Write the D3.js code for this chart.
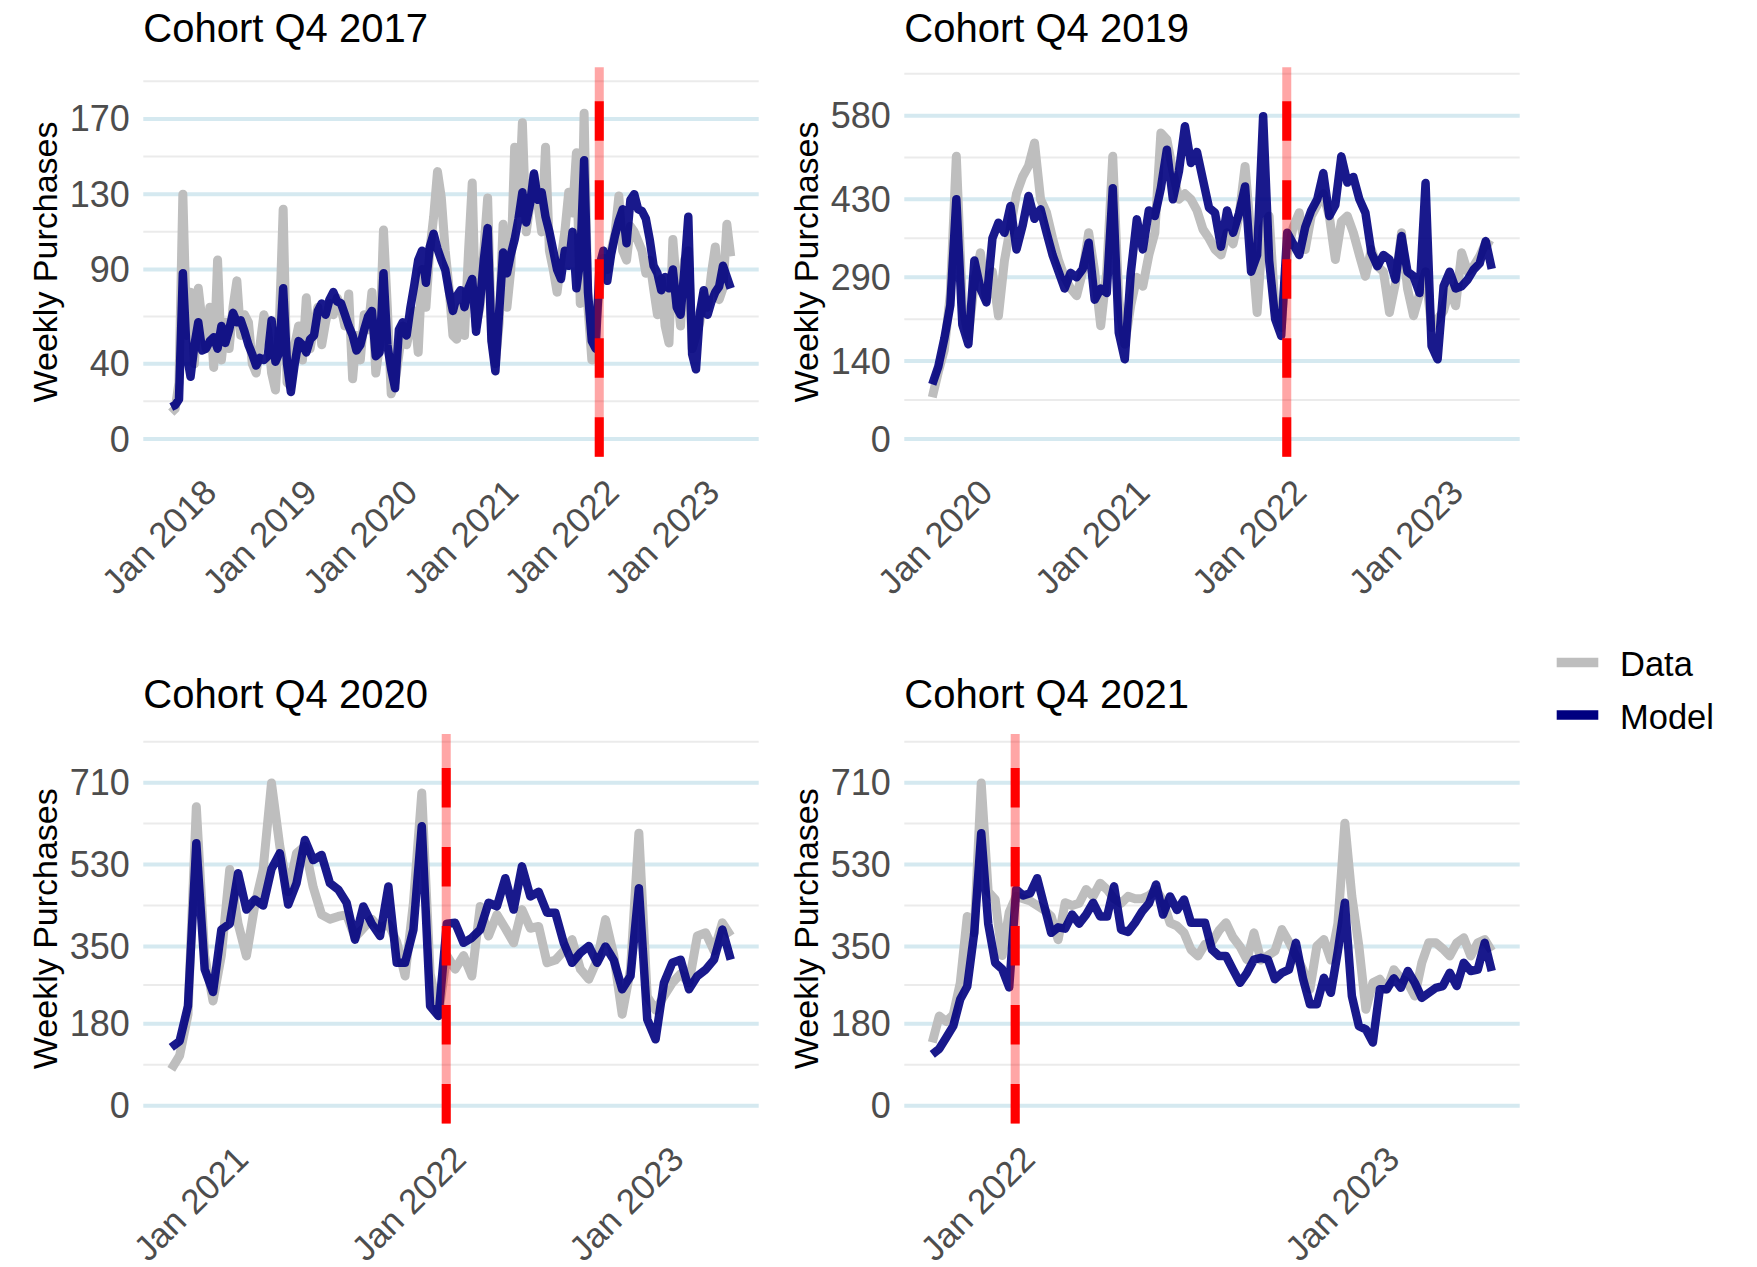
<!DOCTYPE html>
<html>
<head>
<meta charset="utf-8">
<script src="https://cdn.jsdelivr.net/npm/d3@7"></script>
<style>
  body { margin: 0; background: #fff; }
  svg { display: block; font-family: "Liberation Sans", Arial, sans-serif; }
</style>
</head>
<body>
<div id="chart"></div>
<script>
// one cohort per panel, weekly purchases sampled every `stepWeeks` weeks from the start date
const cohorts = ['Cohort Q4 2017', 'Cohort Q4 2019', 'Cohort Q4 2020', 'Cohort Q4 2021'];
const startDates = ['2017-10-01', '2019-09-29', '2020-09-27', '2021-10-10'];
const stepWeeks = [2, 2, 2, 1];
const cutoffDate = '2022-01-01';
const yTicks = [
  [0, 40, 90, 130, 170],
  [0, 140, 290, 430, 580],
  [0, 180, 350, 530, 710],
  [0, 180, 350, 530, 710]
];
const yMax = [188, 635, 778, 778];
const seriesNames = ['Data', 'Model'];

const dataQ42017 = [
  14, 16, 30, 130, 55, 78, 40, 80, 62, 48,
  70, 38, 95, 42, 62, 48, 70, 84, 55, 66,
  62, 40, 35, 50, 66, 58, 35, 26, 60, 122,
  30, 28, 50, 60, 42, 75, 48, 60, 70, 50,
  62, 72, 66, 75, 70, 60, 77, 32, 55, 42,
  66, 58, 78, 35, 50, 111, 70, 24, 30, 45,
  60, 50, 60, 68, 46, 90, 70, 100, 118, 142,
  128, 100, 80, 55, 53, 70, 55, 98, 136, 60,
  70, 100, 128, 54, 40, 62, 114, 70, 90, 155,
  120, 168, 110, 125, 140, 125, 110, 155, 100, 90,
  78, 95, 110, 131, 120, 152, 72, 173, 70, 42,
  60, 80, 96, 90, 100, 109, 129, 100, 95, 113,
  110, 105, 100, 88, 95, 80, 66, 85, 60, 51,
  106, 80, 60, 95, 100, 48, 55, 62, 77, 70,
  88, 102, 74, 80, 114, 97
];
const modelQ42017 = [
  17, 18, 21, 88, 45, 33, 50, 62, 47, 48,
  52, 54, 48, 60, 51, 58, 67, 62, 63, 57,
  50, 45, 39, 43, 42, 44, 63, 41, 46, 80,
  40, 25, 40, 52, 50, 46, 53, 55, 68, 72,
  66, 74, 78, 73, 72, 66, 60, 55, 47, 50,
  58, 65, 68, 44, 46, 88, 50, 37, 27, 58,
  62, 55, 70, 82, 95, 100, 83, 102, 109, 101,
  95, 90, 78, 68, 76, 79, 70, 80, 85, 57,
  72, 95, 112, 52, 36, 68, 99, 88, 98, 106,
  117, 131, 115, 125, 141, 127, 131, 118, 110, 100,
  90, 85, 100, 92, 110, 80, 95, 148, 78, 52,
  48, 92, 100, 84, 98, 108, 116, 122, 104, 127,
  130, 122, 121, 117, 106, 92, 88, 79, 86, 80,
  90, 70, 66, 90, 118, 45, 37, 67, 79, 66,
  73, 78, 81, 92, 86, 80
];

const dataQ42019 = [
  75, 120, 160, 260, 507, 240, 185, 280, 334, 250,
  300, 221, 320, 380, 440, 470, 490, 531, 430, 406,
  360, 320, 290, 270, 257, 300, 370, 300, 203, 300,
  507, 250, 170, 240, 290, 274, 330, 370, 549, 537,
  480, 430, 440, 430, 410, 376, 360, 340, 330, 370,
  350, 400, 489, 360, 227, 380, 400, 230, 200, 330,
  380, 406, 340, 400, 420, 440, 400, 322, 390, 400,
  370, 330, 292, 340, 310, 300, 227, 280, 370, 270,
  221, 260, 300, 200, 215, 230, 270, 239, 334, 300,
  310, 328, 352, 346
];
const modelQ42019 = [
  98, 130, 180, 240, 430, 205, 170, 320, 270, 245,
  360, 388, 370, 418, 340, 382, 436, 395, 412, 370,
  330, 300, 270, 298, 290, 305, 352, 250, 270, 262,
  450, 191, 143, 298, 394, 340, 410, 400, 450, 519,
  430, 480, 561, 495, 515, 465, 415, 406, 345, 410,
  370, 405, 453, 300, 330, 579, 320, 215, 185, 370,
  350, 330, 380, 410, 430, 477, 400, 420, 507, 460,
  470, 430, 406, 334, 310, 330, 322, 286, 364, 300,
  292, 262, 459, 167, 143, 274, 300, 270, 274, 286,
  304, 315, 355, 305
];

const dataQ42020 = [
  80, 110, 200, 657, 330, 230, 330, 519, 400, 329,
  440, 519, 709, 570, 470, 555, 570, 480, 420, 410,
  416, 420, 370, 390, 410, 390, 400, 360, 285, 446,
  687, 290, 200, 330, 300, 330, 285, 438, 373, 420,
  390, 358, 431, 390, 394, 314, 320, 340, 365, 300,
  278, 320, 409, 330, 201, 300, 599, 240, 210, 241,
  270, 290, 270, 373, 380, 340, 402, 373
];
const modelQ42020 = [
  128, 142, 219, 577, 300, 250, 387, 400, 511, 431,
  453, 440, 520, 555, 442, 489, 584, 540, 551, 489,
  475, 446, 365, 438, 400, 373, 482, 314, 314, 387,
  614, 219, 197, 400, 402, 358, 369, 387, 446, 438,
  500, 431, 526, 460, 470, 424, 424, 358, 314, 336,
  351, 314, 350, 320, 256, 285, 478, 190, 146, 270,
  314, 321, 256, 285, 299, 321, 387, 321
];

const dataQ42021 = [
  139, 197, 185, 200, 270, 416, 380, 709, 470, 453,
  330, 425, 460, 455, 450, 440, 430, 416, 365, 446,
  440, 445, 475, 460, 489, 475, 455, 445, 460, 455,
  455, 462, 475, 450, 402, 395, 380, 343, 329, 355,
  360, 385, 402, 370, 350, 321, 380, 320, 330, 340,
  387, 360, 330, 299, 256, 351, 365, 320, 400, 621,
  460, 351, 212, 270, 278, 256, 299, 280, 270, 241,
  314, 358, 358, 345, 329, 358, 369, 329, 358, 365, 340
];
const modelQ42021 = [
  113, 125, 150, 175, 234, 262, 380, 599, 400, 314,
  300, 260, 475, 462, 467, 500, 440, 380, 392, 389,
  420, 400, 420, 446, 416, 416, 482, 387, 382, 402,
  427, 445, 486, 420, 460, 430, 453, 402, 402, 402,
  343, 329, 329, 299, 270, 292, 321, 325, 321, 278,
  292, 299, 358, 280, 223, 223, 281, 248, 340, 446,
  241, 175, 168, 139, 256, 256, 280, 259, 296, 270,
  237, 248, 259, 263, 292, 263, 314, 296, 299, 358, 296
];

const dataSeries = [dataQ42017, dataQ42019, dataQ42020, dataQ42021];
const modelSeries = [modelQ42017, modelQ42019, modelQ42020, modelQ42021];

const width = 1757;
const height = 1267;
const panelW = 615.4;
const panelH = 389.4;
const panelPos = [
  { left: 143.3, top: 67.3 },
  { left: 904.3, top: 67.3 },
  { left: 143.3, top: 734 },
  { left: 904.3, top: 734 }
];

const dataColor = '#bebebe';
const modelColor = '#000080';
const parse = d3.utcParse('%Y-%m-%d');
const fmt = d3.utcFormat('%b %Y');

const svg = d3.select('#chart')
  .append('svg')
  .attr('width', width)
  .attr('height', height);

cohorts.forEach((title, i) => {
  const { left, top } = panelPos[i];
  const start = parse(startDates[i]);
  const dates = dataSeries[i].map((_, k) => d3.utcDay.offset(start, k * 7 * stepWeeks[i]));
  const t0 = +dates[0];
  const t1 = +dates[dates.length - 1];
  const pad = (t1 - t0) * 0.05;

  const x = d3.scaleUtc()
    .domain([new Date(t0 - pad), new Date(t1 + pad)])
    .range([left, left + panelW]);

  const y = d3.scaleLinear()
    .domain([-0.05 * yMax[i], 1.05 * yMax[i]])
    .range([top + panelH, top]);

  const g = svg.append('g');

  // minor grid: midpoints between breaks, plus one beyond the last
  const ticks = yTicks[i];
  const minor = d3.pairs(ticks).map(([a, b]) => (a + b) / 2);
  minor.push(ticks[ticks.length - 1] + (ticks[ticks.length - 1] - ticks[ticks.length - 2]) / 2);
  const [lo, hi] = y.domain();

  g.selectAll('.minor')
    .data(minor.filter(v => v >= lo && v <= hi))
    .enter().append('line')
    .attr('x1', left).attr('x2', left + panelW)
    .attr('y1', d => y(d)).attr('y2', d => y(d))
    .attr('stroke', '#ebebeb')
    .attr('stroke-width', 2);

  g.selectAll('.major')
    .data(ticks)
    .enter().append('line')
    .attr('x1', left).attr('x2', left + panelW)
    .attr('y1', d => y(d)).attr('y2', d => y(d))
    .attr('stroke', '#d5e9f0')
    .attr('stroke-width', 4);

  const line = d3.line()
    .x(d => x(d[0]))
    .y(d => y(d[1]));

  g.append('path')
    .datum(dates.map((d, k) => [d, dataSeries[i][k]]))
    .attr('d', line)
    .attr('fill', 'none')
    .attr('stroke', dataColor)
    .attr('stroke-width', 9)
    .attr('stroke-linejoin', 'round');

  g.append('path')
    .datum(dates.map((d, k) => [d, modelSeries[i][k]]))
    .attr('d', line)
    .attr('fill', 'none')
    .attr('stroke', modelColor)
    .attr('stroke-opacity', 0.9)
    .attr('stroke-width', 8.5)
    .attr('stroke-linejoin', 'round');

  // cutoff marker: faint full line plus dashed line drawn bottom-up
  const cx = x(parse(cutoffDate));
  g.append('line')
    .attr('x1', cx).attr('x2', cx)
    .attr('y1', top).attr('y2', top + panelH)
    .attr('stroke', 'red')
    .attr('stroke-opacity', 0.35)
    .attr('stroke-width', 9);
  g.append('line')
    .attr('x1', cx).attr('x2', cx)
    .attr('y1', top + panelH).attr('y2', top)
    .attr('stroke', 'red')
    .attr('stroke-width', 9)
    .attr('stroke-dasharray', '39.5 39.5');

  // y axis labels
  g.selectAll('.ylab')
    .data(ticks)
    .enter().append('text')
    .attr('x', left - 13.5)
    .attr('y', d => y(d))
    .attr('dy', '0.35em')
    .attr('text-anchor', 'end')
    .attr('font-size', 36)
    .attr('fill', '#4d4d4d')
    .text(d => d);

  // x axis labels, rotated 45 degrees
  const years = d3.utcYear.range(x.domain()[0], x.domain()[1]);
  g.selectAll('.xlab')
    .data(years)
    .enter().append('text')
    .attr('transform', d => `translate(${x(d)},${top + panelH + 16}) rotate(-45)`)
    .attr('dy', '0.88em')
    .attr('text-anchor', 'end')
    .attr('font-size', 35)
    .attr('fill', '#4d4d4d')
    .text(d => fmt(d));

  g.append('text')
    .attr('transform', `translate(${left - 86.5},${top + panelH / 2}) rotate(-90)`)
    .attr('text-anchor', 'middle')
    .attr('font-size', 34)
    .attr('fill', '#000')
    .text('Weekly Purchases');

  g.append('text')
    .attr('x', left)
    .attr('y', top - 25.7)
    .attr('font-size', 40)
    .attr('fill', '#000')
    .text(title);
});

// legend
const legend = svg.append('g');
const legendColors = [dataColor, modelColor];
const legendY = d3.scalePoint().domain(seriesNames).range([662.5, 715]);

legend.selectAll('line')
  .data(seriesNames)
  .enter().append('line')
  .attr('x1', 1556.7).attr('x2', 1598.3)
  .attr('y1', d => legendY(d)).attr('y2', d => legendY(d))
  .attr('stroke', (d, k) => legendColors[k])
  .attr('stroke-width', 9.7);

legend.selectAll('text')
  .data(seriesNames)
  .enter().append('text')
  .attr('x', 1620)
  .attr('y', d => legendY(d) + 13.7)
  .attr('font-size', 34.5)
  .attr('fill', '#000')
  .text(d => d);
</script>
</body>
</html>
